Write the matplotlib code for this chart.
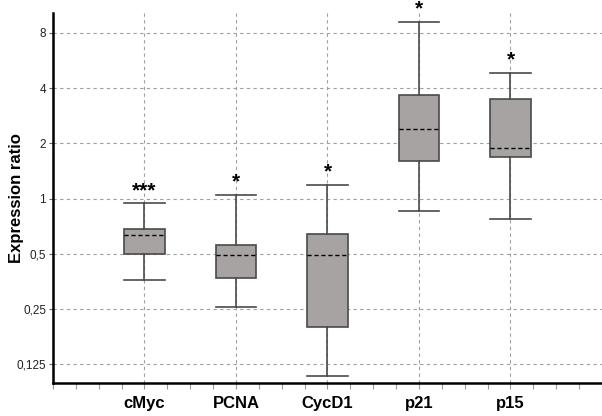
import numpy as np
import matplotlib.pyplot as plt
from matplotlib.ticker import FixedLocator, MultipleLocator, NullLocator

plt.rcParams['font.family'] = ['Liberation Sans', 'DejaVu Sans']

genes = ['cMyc', 'PCNA', 'CycD1', 'p21', 'p15']
whisker_low = [0.36, 0.255, 0.108, 0.85, 0.77]
q1 = [0.50, 0.37, 0.20, 1.61, 1.69]
median = [0.63, 0.49, 0.49, 2.40, 1.89]
q3 = [0.68, 0.56, 0.64, 3.65, 3.50]
whisker_high = [0.94, 1.05, 1.18, 9.2, 4.85]
stars = ['***', '*', '*', '*', '*']

yticks = [0.125, 0.25, 0.5, 1, 2, 4, 8]
ytick_labels = ['0,125', '0,25', '0,5', '1', '2', '4', '8']

stats = []
for i, g in enumerate(genes):
    stats.append(dict(label=g, whislo=whisker_low[i], q1=q1[i], med=median[i],
                      q3=q3[i], whishi=whisker_high[i], fliers=[]))

fig = plt.figure(figsize=(6.02, 4.16), dpi=100)
ax = fig.add_axes([0.088, 0.0793, 0.912, 0.8895])

pos = np.arange(1, len(genes) + 1)
ax.bxp(stats, positions=pos, widths=0.44, patch_artist=True, zorder=3,
       boxprops=dict(facecolor='#a7a3a3', edgecolor='#4a4a4a', linewidth=1.2),
       whiskerprops=dict(color='#4a4a4a', linewidth=1.2),
       capprops=dict(color='#4a4a4a', linewidth=1.2),
       medianprops=dict(color='black', linewidth=1.0, linestyle=(0, (3, 2))),
       capwidths=0.44)

# significance stars a little above the upper whisker
for p, s, hi in zip(pos, stars, whisker_high):
    ax.annotate(s, (p, hi), xytext=(0, 2.5), textcoords='offset points',
                ha='center', va='bottom', fontsize=15, fontweight='bold',
                zorder=4, annotation_clip=False)

ax.set_yscale('log', base=2)
ax.set_ylim(2 ** -3.34, 2 ** 3.36)
ax.set_xlim(0, 6)

ax.yaxis.set_major_locator(FixedLocator(yticks))
ax.set_yticklabels(ytick_labels, fontsize=8.5, color='#222222')
ax.yaxis.set_minor_locator(NullLocator())

ax.set_xticks(pos)
ax.set_xticklabels(genes, fontsize=12, fontweight='bold')
ax.xaxis.set_minor_locator(MultipleLocator(0.25))
ax.tick_params(axis='x', which='major', length=4, width=0.8, color='#999999', pad=5)
ax.tick_params(axis='x', which='minor', length=4, width=0.8, color='#999999')
ax.tick_params(axis='y', length=3, width=0.8, color='#666666', pad=2)

ax.grid(True, which='major', color='#a0a0a0', linestyle=(0, (3, 3)), linewidth=0.8, zorder=0)
ax.set_axisbelow(True)

for side in ['top', 'right']:
    ax.spines[side].set_visible(False)
ax.spines['left'].set_linewidth(1.8)
ax.spines['bottom'].set_linewidth(1.8)

ax.set_ylabel('Expression ratio', fontsize=12, fontweight='bold')
ax.yaxis.set_label_coords(-0.053, 0.5)

fig.savefig('out.png', dpi=100)
